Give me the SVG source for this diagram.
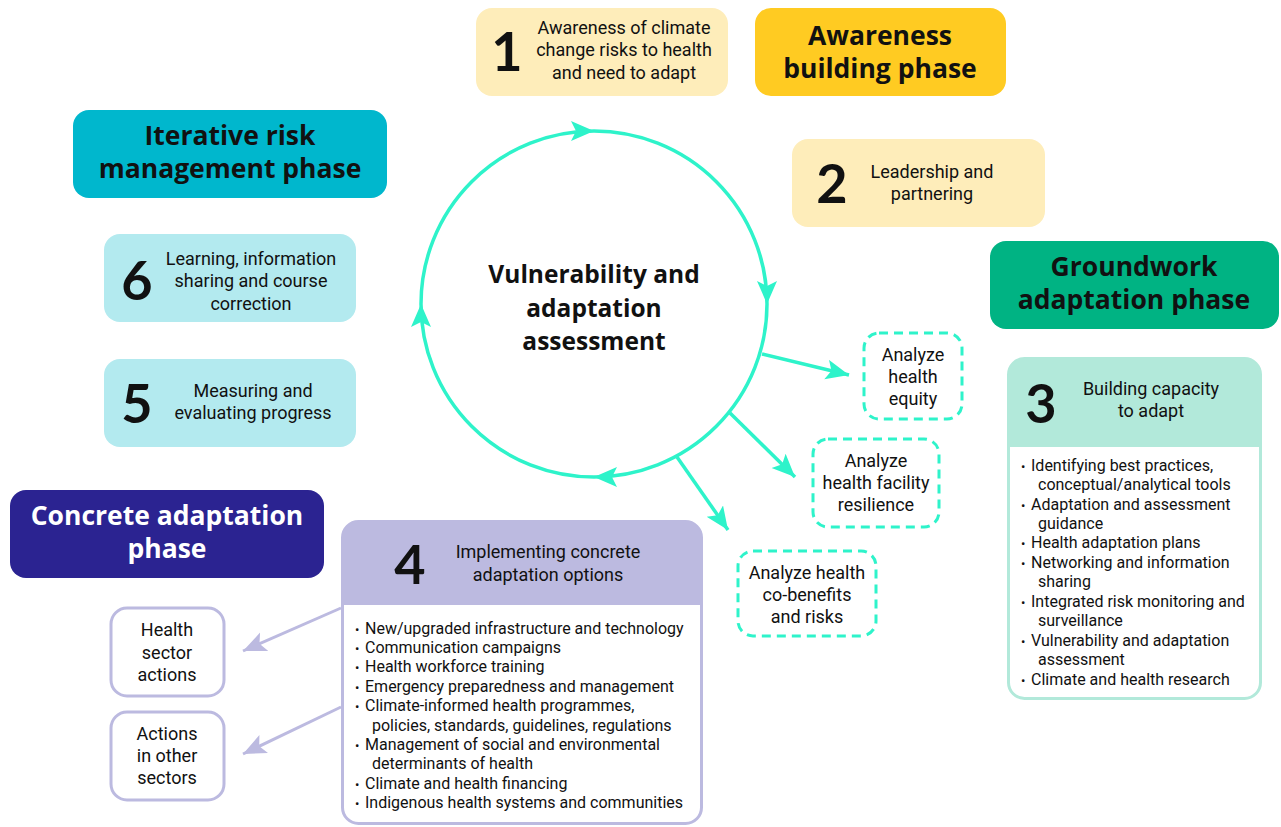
<svg xmlns="http://www.w3.org/2000/svg" width="1281" height="827" viewBox="0 0 1281 827">
<style>
.phase{font-family:"Open Sans","Liberation Sans",sans-serif;font-weight:700;font-size:26.5px;text-anchor:middle;fill:#111}
.num{font-family:Lato,"Liberation Sans",sans-serif;font-weight:700;font-size:54px;text-anchor:middle;fill:#111}
.t{font-family:Roboto,"Liberation Sans",sans-serif;font-size:18px;text-anchor:middle;fill:#111}
.li{font-family:Roboto,"Liberation Sans",sans-serif;font-size:16px;fill:#111}
.b{font-size:13px}
.center{font-family:"Open Sans","Liberation Sans",sans-serif;font-weight:700;font-size:24.5px;text-anchor:middle;fill:#111}
.dash{fill:#fff;stroke:#2EF3CA;stroke-width:3;stroke-dasharray:9 6}
.teal{fill:none;stroke:#2EF3CA;stroke-width:3.5}
.lav{fill:none;stroke:#BCBAE0;stroke-width:3}
</style>
<defs>
<marker id="ah" markerUnits="userSpaceOnUse" markerWidth="30" markerHeight="30" refX="23" refY="10" orient="auto" viewBox="0 0 30 30">
<path d="M0,0 L23,10 L0,20 L5,10 Z" fill="#2EF3CA"/>
</marker>
<marker id="al" markerUnits="userSpaceOnUse" markerWidth="30" markerHeight="30" refX="23" refY="10" orient="auto" viewBox="0 0 30 30">
<path d="M0,0 L23,10 L0,20 L5,10 Z" fill="#BCBAE0"/>
</marker>
</defs>
<rect width="1281" height="827" fill="#fff"/>

<g id="connectors">
<path class="teal" d="M421,304 A173,173 0 0 1 594,131" marker-end="url(#ah)"/>
<path class="teal" d="M594,131 A173,173 0 0 1 767,304" marker-end="url(#ah)"/>
<path class="teal" d="M767,304 A173,173 0 0 1 594,477" marker-end="url(#ah)"/>
<path class="teal" d="M594,477 A173,173 0 0 1 421,304" marker-end="url(#ah)"/>
<line class="teal" x1="762" y1="354" x2="849" y2="375" marker-end="url(#ah)"/>
<line class="teal" x1="730" y1="413" x2="795" y2="477" marker-end="url(#ah)"/>
<line class="teal" x1="677" y1="457" x2="728" y2="530" marker-end="url(#ah)"/>
<line class="lav" x1="341" y1="608" x2="243" y2="651" marker-end="url(#al)"/>
<line class="lav" x1="341" y1="707" x2="243" y2="754" marker-end="url(#al)"/>
</g>

<g id="center">
<text class="center" x="594" y="283">Vulnerability and</text>
<text class="center" x="594" y="317">adaptation</text>
<text class="center" x="594" y="350">assessment</text>
</g>

<g id="box1">
<rect x="476" y="8" width="252" height="88" rx="16" fill="#FEEDBA"/>
<text class="num" x="507" y="71">1</text>
<text class="t" x="624" y="34">Awareness of climate</text>
<text class="t" x="624" y="56">change risks to health</text>
<text class="t" x="624" y="79">and need to adapt</text>
</g>

<g id="awareness-phase">
<rect x="755" y="8" width="251" height="88" rx="16" fill="#FFCB22"/>
<text class="phase" x="880" y="45">Awareness</text>
<text class="phase" x="880" y="78">building phase</text>
</g>

<g id="box2">
<rect x="792" y="139" width="253" height="88" rx="16" fill="#FEEDBA"/>
<text class="num" x="832" y="203">2</text>
<text class="t" x="932" y="178">Leadership and</text>
<text class="t" x="932" y="200">partnering</text>
</g>

<g id="groundwork-phase">
<rect x="990" y="241" width="289" height="88" rx="16" fill="#00B383"/>
<text class="phase" x="1134" y="276">Groundwork</text>
<text class="phase" x="1134" y="309">adaptation phase</text>
</g>

<g id="box3">
<rect x="1008.5" y="358.5" width="252" height="340" rx="16" fill="#fff" stroke="#B2E9DA" stroke-width="3"/>
<path d="M1008.5,447 V374.5 A16,16 0 0 1 1024.5,358.5 H1244.5 A16,16 0 0 1 1260.5,374.5 V447 Z" fill="#B2E9DA"/>
<text class="num" x="1041" y="423">3</text>
<text class="t" x="1151" y="395">Building capacity</text>
<text class="t" x="1151" y="417">to adapt</text>
<text class="li" x="1021" y="471"><tspan class="b">•</tspan><tspan x="1031">Identifying best practices,</tspan></text>
<text class="li" x="1038" y="490">conceptual/analytical tools</text>
<text class="li" x="1021" y="510"><tspan class="b">•</tspan><tspan x="1031">Adaptation and assessment</tspan></text>
<text class="li" x="1038" y="529">guidance</text>
<text class="li" x="1021" y="548"><tspan class="b">•</tspan><tspan x="1031">Health adaptation plans</tspan></text>
<text class="li" x="1021" y="568"><tspan class="b">•</tspan><tspan x="1031">Networking and information</tspan></text>
<text class="li" x="1038" y="587">sharing</text>
<text class="li" x="1021" y="607"><tspan class="b">•</tspan><tspan x="1031">Integrated risk monitoring and</tspan></text>
<text class="li" x="1038" y="626">surveillance</text>
<text class="li" x="1021" y="646"><tspan class="b">•</tspan><tspan x="1031">Vulnerability and adaptation</tspan></text>
<text class="li" x="1038" y="665">assessment</text>
<text class="li" x="1021" y="685"><tspan class="b">•</tspan><tspan x="1031">Climate and health research</tspan></text>
</g>

<g id="iterative-phase">
<rect x="73" y="110" width="314" height="88" rx="16" fill="#00B7CD"/>
<text class="phase" x="230" y="145">Iterative risk</text>
<text class="phase" x="230" y="178">management phase</text>
</g>

<g id="box6">
<rect x="104" y="234" width="252" height="88" rx="16" fill="#B3EAEF"/>
<text class="num" x="137" y="300">6</text>
<text class="t" x="251" y="265">Learning, information</text>
<text class="t" x="251" y="287">sharing and course</text>
<text class="t" x="251" y="310">correction</text>
</g>

<g id="box5">
<rect x="104" y="359" width="252" height="88" rx="16" fill="#B3EAEF"/>
<text class="num" x="137" y="423">5</text>
<text class="t" x="253" y="397">Measuring and</text>
<text class="t" x="253" y="419">evaluating progress</text>
</g>

<g id="concrete-phase">
<rect x="10" y="490" width="314" height="88" rx="16" fill="#2B2391"/>
<text class="phase" x="167" y="525" style="fill:#fff">Concrete adaptation</text>
<text class="phase" x="167" y="558" style="fill:#fff">phase</text>
</g>

<g id="box4">
<rect x="342.5" y="521.5" width="359" height="302" rx="16" fill="#fff" stroke="#BCBAE0" stroke-width="3"/>
<path d="M342.5,605 V537.5 A16,16 0 0 1 358.5,521.5 H685.5 A16,16 0 0 1 701.5,537.5 V605 Z" fill="#BCBAE0"/>
<text class="num" x="410" y="584">4</text>
<text class="t" x="548" y="558">Implementing concrete</text>
<text class="t" x="548" y="581">adaptation options</text>
<text class="li" x="355" y="634"><tspan class="b">•</tspan><tspan x="365">New/upgraded infrastructure and technology</tspan></text>
<text class="li" x="355" y="653"><tspan class="b">•</tspan><tspan x="365">Communication campaigns</tspan></text>
<text class="li" x="355" y="672"><tspan class="b">•</tspan><tspan x="365">Health workforce training</tspan></text>
<text class="li" x="355" y="692"><tspan class="b">•</tspan><tspan x="365">Emergency preparedness and management</tspan></text>
<text class="li" x="355" y="711"><tspan class="b">•</tspan><tspan x="365">Climate-informed health programmes,</tspan></text>
<text class="li" x="372" y="731">policies, standards, guidelines, regulations</text>
<text class="li" x="355" y="750"><tspan class="b">•</tspan><tspan x="365">Management of social and environmental</tspan></text>
<text class="li" x="372" y="769">determinants of health</text>
<text class="li" x="355" y="789"><tspan class="b">•</tspan><tspan x="365">Climate and health financing</tspan></text>
<text class="li" x="355" y="808"><tspan class="b">•</tspan><tspan x="365">Indigenous health systems and communities</tspan></text>
</g>

<g id="health-sector">
<rect x="111" y="608" width="113" height="88" rx="16" fill="#fff" stroke="#BCBAE0" stroke-width="3"/>
<text class="t" x="167" y="636">Health</text>
<text class="t" x="167" y="659">sector</text>
<text class="t" x="167" y="681">actions</text>
</g>

<g id="other-sectors">
<rect x="111" y="712" width="113" height="88" rx="16" fill="#fff" stroke="#BCBAE0" stroke-width="3"/>
<text class="t" x="167" y="740">Actions</text>
<text class="t" x="167" y="762">in other</text>
<text class="t" x="167" y="784">sectors</text>
</g>

<g id="equity">
<rect class="dash" x="864" y="333" width="98" height="86" rx="15"/>
<text class="t" x="913" y="361">Analyze</text>
<text class="t" x="913" y="383">health</text>
<text class="t" x="913" y="405">equity</text>
</g>

<g id="facility">
<rect class="dash" x="813" y="439" width="126" height="88" rx="15"/>
<text class="t" x="876" y="467">Analyze</text>
<text class="t" x="876" y="489">health facility</text>
<text class="t" x="876" y="511">resilience</text>
</g>

<g id="cobenefits">
<rect class="dash" x="738" y="551" width="138" height="85" rx="15"/>
<text class="t" x="807" y="579">Analyze health</text>
<text class="t" x="807" y="601">co-benefits</text>
<text class="t" x="807" y="623">and risks</text>
</g>
</svg>
